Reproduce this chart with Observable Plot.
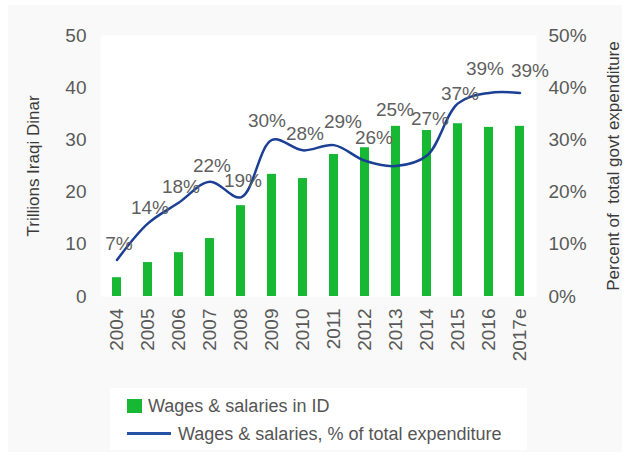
<!DOCTYPE html>
<html><head><meta charset="utf-8">
<script src="https://cdn.jsdelivr.net/npm/d3@7"></script>
<script src="https://cdn.jsdelivr.net/npm/@observablehq/plot@0.6"></script>
<style>
body{margin:0;background:#ffffff;font-family:"Liberation Sans",Arial,sans-serif;}
#wrap{position:relative;width:630px;height:468px;overflow:hidden;}
#panel{position:absolute;left:8px;top:5px;width:614px;height:447px;background:#f8f9f8;}
#chart{position:absolute;left:0;top:0;}
#legend{position:absolute;left:110px;top:388px;width:417px;height:62px;background:#fff;color:#555;font-size:18px;}
#legend .sw{position:absolute;left:17px;top:11px;width:15px;height:14px;background:#17b934;}
#legend .ln{position:absolute;left:17px;top:44px;width:44px;height:3px;background:#2453a6;}
#legend .t1{position:absolute;left:38px;top:7px;line-height:22px;white-space:nowrap;}
#legend .t2{position:absolute;left:68px;top:35px;line-height:22px;white-space:nowrap;}
</style>
</head><body>
<div id="wrap">
<div id="panel"></div>
<div id="chart"></div>
<div id="legend"><div class="sw"></div><div class="t1">Wages &amp; salaries in ID</div><div class="ln"></div><div class="t2">Wages &amp; salaries, % of total expenditure</div></div>
</div>
<script>
const years = ["2004","2005","2006","2007","2008","2009","2010","2011","2012","2013","2014","2015","2016","2017e"];
const wages = [3.6, 6.5, 8.4, 11.1, 17.4, 23.4, 22.6, 27.2, 28.5, 32.6, 31.8, 33.1, 32.4, 32.6];
const sharePct = [7, 14, 18, 22, 19, 30, 28, 29, 26, 25, 27, 37, 39, 39];
const yTicks = [0, 10, 20, 30, 40, 50];
const leftTitle = "Trillions Iraqi Dinar";
const rightTitle = "Percent of  total govt expenditure";

const data = years.map((y, i) => ({year: y, wages: wages[i], pct: sharePct[i]}));

// label placement groups (pixel offsets are styling, like hand-placed labels)
function labels(sel, dx, dy) {
  return Plot.text(data.filter(d => sel.includes(d.year)), {
    x: "year", y: "pct", text: d => d.pct + "%", dx, dy, fill: "#5f5f5f", fontSize: 19
  });
}
function leaders(sel, dx, dy) {
  return Plot.link(data.filter(d => sel.includes(d.year)), {
    x1: "year", y1: "pct", x2: "year", y2: "pct", stroke: "#d4d4d4", strokeWidth: 1
  });
}

const chart = Plot.plot({
  width: 630,
  height: 380,
  marginLeft: 100,
  marginRight: 94,
  marginTop: 35,
  marginBottom: 84,
  style: {background: "transparent", fontFamily: "'Liberation Sans', Arial, sans-serif", fontSize: "19px", color: "#595959"},
  x: {type: "band", domain: years, paddingInner: 0.7, paddingOuter: 0.35},
  y: {domain: [0, 50]},
  marks: [
    Plot.frame({fill: "white", stroke: "none"}),
    Plot.barY(data, {x: "year", y: "wages", fill: "#17b934"}),
    Plot.line(data, {x: "year", y: "pct", stroke: "#1b3f94", strokeWidth: 2.5, curve: "catmull-rom"}),
    labels(["2004","2005","2006","2007","2008","2010"], 2, -16),
    labels(["2009"], -5, -19),
    labels(["2011","2012"], 9, -23),
    labels(["2013"], -1, -56),
    labels(["2014"], 3, -37),
    labels(["2015"], 2, -9),
    labels(["2016"], -4, -24),
    labels(["2017e"], 10, -22),
    Plot.axisY(yTicks, {anchor: "left", tickSize: 0, tickPadding: 14, label: null, fontSize: 19}),
    Plot.axisY(yTicks, {anchor: "right", tickSize: 0, tickPadding: 12, tickFormat: d => d + "%", label: null, fontSize: 19}),
    Plot.axisX({tickRotate: -90, tickSize: 0, tickPadding: 12, label: null, fontSize: 19}),
    Plot.text([leftTitle], {frameAnchor: "left", textAnchor: "middle", rotate: -90, dx: -67, fontSize: 17, fill: "#3a3a3a"}),
    Plot.text([rightTitle], {frameAnchor: "right", textAnchor: "middle", rotate: -90, dx: 77, fontSize: 17, fill: "#3a3a3a"})
  ]
});
document.getElementById("chart").appendChild(chart);
</script>
</body></html>
